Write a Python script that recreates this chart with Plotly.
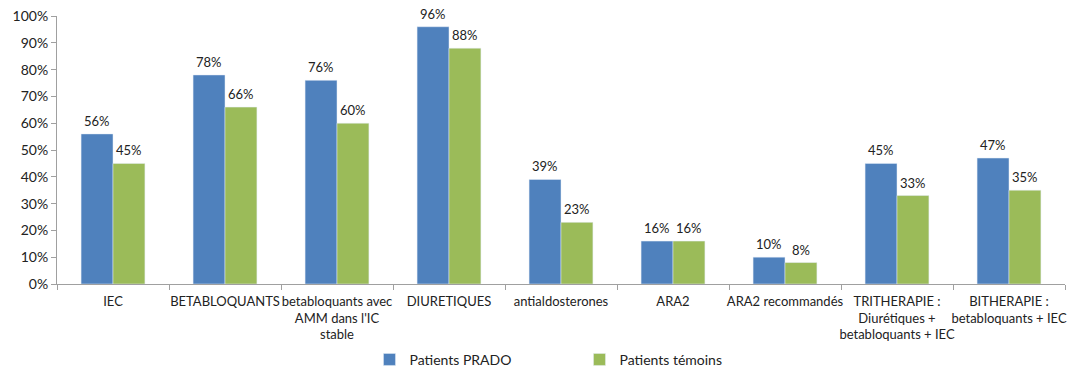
import plotly.graph_objects as go

categories = [
    "IEC",
    "BETABLOQUANTS",
    "betabloquants avec<br>AMM dans l'IC<br>stable",
    "DIURETIQUES",
    "antialdosterones",
    "ARA2",
    "ARA2 recommandés",
    "TRITHERAPIE :<br>Diurétiques +<br>betabloquants + IEC",
    "BITHERAPIE :<br>betabloquants + IEC",
]
prado = [0.56, 0.78, 0.76, 0.96, 0.39, 0.16, 0.10, 0.45, 0.47]
temoins = [0.45, 0.66, 0.60, 0.88, 0.23, 0.16, 0.08, 0.33, 0.35]
y_ticks = [i / 10 for i in range(11)]

font_family = "Lato, 'Open Sans', sans-serif"
text_color = "#222"

fig = go.Figure()
fig.add_trace(go.Bar(name="Patients PRADO", x=categories, y=prado,
                     marker=dict(color="#4F81BD")))
fig.add_trace(go.Bar(name="Patients témoins", x=categories, y=temoins,
                     marker=dict(color="#9BBB59")))

# value labels above each bar, offset half a bar width left/right of the group centre
for values, shift in ((prado, -16), (temoins, 16)):
    for cat, v in zip(categories, values):
        fig.add_annotation(
            x=cat, y=v, text=f"{v:.0%}", showarrow=False,
            xshift=shift, yshift=3, yanchor="bottom",
            font=dict(size=13, color=text_color),
        )

fig.update_layout(
    width=1068, height=370,
    margin=dict(l=57, r=3, t=16, b=86, autoexpand=False),
    barmode="group", bargap=0.43, bargroupgap=0,
    plot_bgcolor="white", paper_bgcolor="white",
    font=dict(family=font_family, size=13, color=text_color),
    showlegend=True,
    legend=dict(
        orientation="h", x=0.31, y=-0.283, xanchor="left", yanchor="middle",
        entrywidth=165, entrywidthmode="pixels",
        font=dict(size=14, color=text_color),
    ),
    xaxis=dict(
        showline=True, linecolor="#A0A0A0", linewidth=1,
        ticks="outside", tickson="boundaries", ticklen=5, tickcolor="#A0A0A0",
        tickfont=dict(size=13), tickangle=0, ticklabelstandoff=5,
        showgrid=False, automargin=False,
    ),
    yaxis=dict(
        range=[0, 1], tickvals=y_ticks, tickformat=".0%",
        showline=True, linecolor="#A0A0A0", linewidth=1,
        ticks="outside", ticklen=5, tickcolor="#A0A0A0",
        tickfont=dict(size=14), showgrid=False, zeroline=False, automargin=False,
    ),
)

fig.write_html("out.html")
